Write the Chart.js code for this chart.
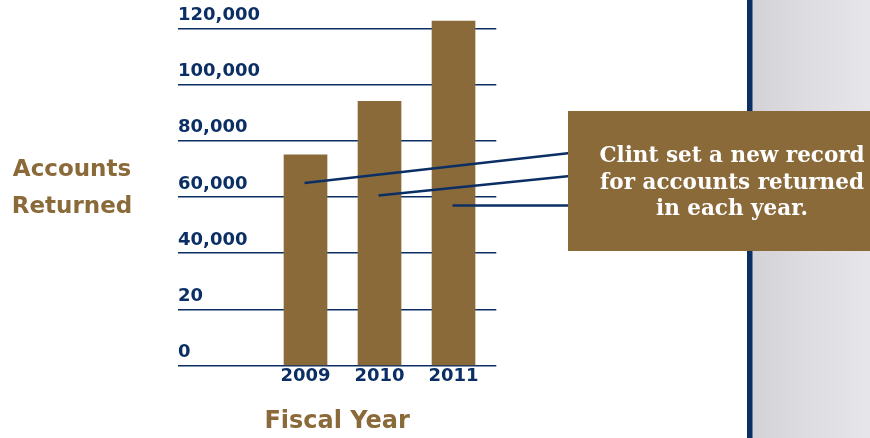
<!DOCTYPE html>
<html>
<head>
<meta charset="utf-8">
<script src="https://cdn.jsdelivr.net/npm/chart.js@4.4.1/dist/chart.umd.min.js"></script>
<style>
html,body{margin:0;padding:0;background:#fff;}
#wrap{position:relative;width:870px;height:438px;}
</style>
</head>
<body>
<div id="wrap"><canvas id="c" width="870" height="438"></canvas></div>
<script>
// ---- data ----
const years = [2009, 2010, 2011];
const yearLabels = ['2009', '2010', '2011'];
const accountsReturned = [75000, 94000, 122600];
const yTickValues = [0, 20000, 40000, 60000, 80000, 100000, 120000];
const yTickLabels = ['0', '20', '40,000', '60,000', '80,000', '100,000', '120,000'];
const yAxisTitle = ['Accounts', 'Returned'];
const xAxisTitle = 'Fiscal Year';
const calloutLines = ['Clint set a new record', 'for accounts returned', 'in each year.'];
// leader line start points (data space: year, value)
const leaderYears = [2009, 2010, 2011];
const leaderValues = [65000, 60500, 57000];

// ---- styles ----
const BROWN = '#8B6A3A';
const NAVY = '#0B2F64';

const decorations = {
  id: 'decorations',
  beforeDraw(chart) {
    const ctx = chart.ctx;
    ctx.save();
    const g = ctx.createLinearGradient(752, 0, 870, 0);
    g.addColorStop(0, '#d3d3d7');
    g.addColorStop(0.5, '#dedee2');
    g.addColorStop(1, '#e6e6ea');
    ctx.fillStyle = g;
    ctx.fillRect(752, 0, 118, 438);
    ctx.fillStyle = NAVY;
    ctx.fillRect(747, 0, 5.5, 438);
    ctx.fillStyle = BROWN;
    ctx.font = 'bold 23px "DejaVu Sans"';
    ctx.textAlign = 'center';
    ctx.textBaseline = 'alphabetic';
    ctx.fillText(yAxisTitle[0], 72, 176);
    ctx.fillText(yAxisTitle[1], 72, 213);
    ctx.restore();
  },
  afterDraw(chart) {
    const ctx = chart.ctx;
    const xs = chart.scales.x, ys = chart.scales.y;
    const boxL = 568, boxT = 111, boxR = 870, boxB = 251;
    const ends = [153, 176, 205.5];
    ctx.save();
    ctx.strokeStyle = NAVY;
    ctx.lineWidth = 2.5;
    leaderYears.forEach((yr, i) => {
      ctx.beginPath();
      ctx.moveTo(xs.getPixelForValue(yr) - 1, ys.getPixelForValue(leaderValues[i]));
      ctx.lineTo(boxL + 2, ends[i]);
      ctx.stroke();
    });
    ctx.fillStyle = BROWN;
    ctx.fillRect(boxL, boxT, boxR - boxL, boxB - boxT);
    ctx.fillStyle = '#ffffff';
    ctx.font = 'bold 21.5px "DejaVu Serif"';
    ctx.textAlign = 'center';
    ctx.textBaseline = 'alphabetic';
    const cx = 732;
    const bases = [162, 188.5, 215];
    calloutLines.forEach((t, i) => ctx.fillText(t, cx, bases[i]));
    ctx.restore();
  }
};

new Chart(document.getElementById('c'), {
  type: 'bar',
  data: {
    datasets: [{
      data: years.map((y, i) => ({x: y, y: accountsReturned[i]})),
      backgroundColor: BROWN,
      borderWidth: 0,
      barThickness: 43,
      clip: false
    }]
  },
  options: {
    responsive: false,
    animation: false,
    layout: {padding: {left: 178, right: 373.7, top: 28.3, bottom: 2}},
    plugins: {legend: {display: false}, tooltip: {enabled: false}},
    scales: {
      x: {
        type: 'linear',
        offset: false,
        bounds: 'data',
        min: 2007.277,
        max: 2011.578,
        grid: {display: false, drawTicks: false, offset: false},
        border: {display: false},
        afterBuildTicks: (s) => { s.ticks = years.map(v => ({value: v})); },
        ticks: {
          color: NAVY,
          font: {family: '"DejaVu Sans"', weight: 'bold', size: 18},
          padding: 0,
          autoSkip: false,
          maxRotation: 0,
          callback: (v) => yearLabels[years.indexOf(v)]
        },
        title: {
          display: true,
          text: xAxisTitle,
          color: BROWN,
          font: {family: '"DejaVu Sans"', weight: 'bold', size: 24},
          padding: {top: 20, bottom: 0}
        }
      },
      y: {
        min: 0,
        max: 120000,
        grid: {color: NAVY, lineWidth: 1.6, drawTicks: false},
        border: {display: false},
        afterBuildTicks: (s) => { s.ticks = yTickValues.map(v => ({value: v})); },
        ticks: {
          mirror: true,
          padding: 0,
          labelOffset: -13,
          color: NAVY,
          font: {family: '"DejaVu Sans"', weight: 'bold', size: 18},
          callback: (v) => yTickLabels[yTickValues.indexOf(v)]
        }
      }
    }
  },
  plugins: [decorations]
});
</script>
</body>
</html>
